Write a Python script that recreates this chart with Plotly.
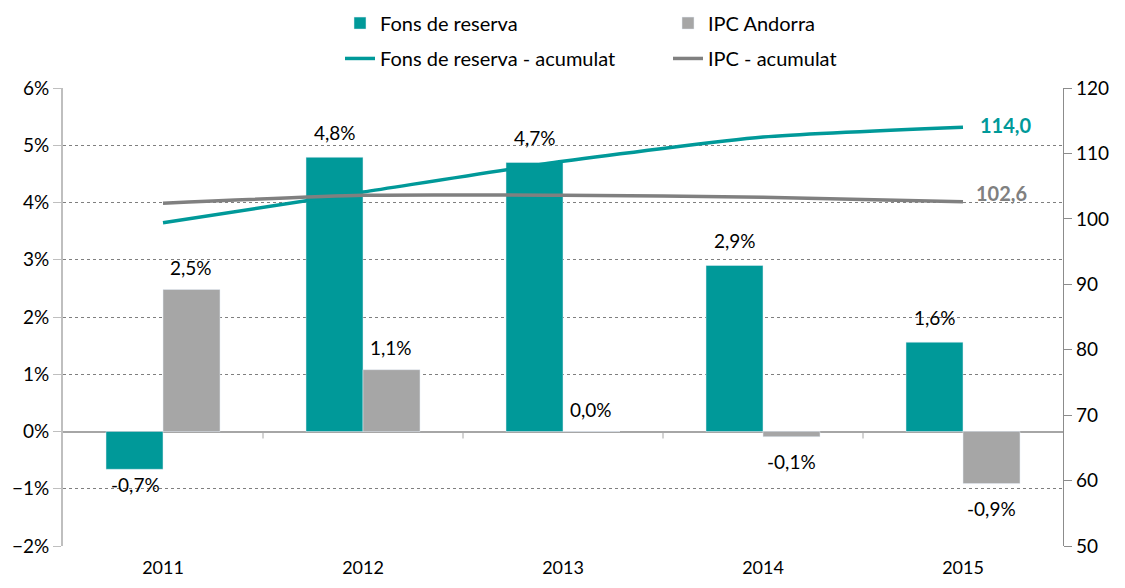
import plotly.graph_objects as go

years = ["2011", "2012", "2013", "2014", "2015"]
fons = [-0.66, 4.79, 4.70, 2.90, 1.56]
ipc = [2.48, 1.08, 0.0, -0.09, -0.91]
fons_acum = [99.4, 104.1, 108.8, 112.5, 114.0]
ipc_acum = [102.4, 103.6, 103.6, 103.3, 102.6]

TEAL = "#009999"
GRAYBAR = "#A6A6A6"
GRAYLINE = "#808080"
FONT = "Lato"

def pct(v):
    return f"{v:.1f}".replace(".", ",") + "%"

fig = go.Figure()
fig.add_trace(go.Bar(x=years, y=fons, name="Fons de reserva", marker_color=TEAL,
                     legend="legend", offsetgroup="a"))
fig.add_trace(go.Bar(x=years, y=ipc, name="IPC Andorra", marker_color=GRAYBAR,
                     legend="legend", offsetgroup="b"))
fig.add_trace(go.Scatter(x=years, y=fons_acum, name="Fons de reserva - acumulat", yaxis="y2",
                         mode="lines", line=dict(color=TEAL, width=3.5, shape="spline", smoothing=0.6),
                         legend="legend2"))
fig.add_trace(go.Scatter(x=years, y=ipc_acum, name="IPC - acumulat", yaxis="y2",
                         mode="lines", line=dict(color=GRAYLINE, width=3.5, shape="spline", smoothing=0.6),
                         legend="legend2"))

# annotations use the category index on the category axis
ann = []
for i, v in enumerate(fons):
    ann.append(dict(x=i, y=v, xref="x", yref="y", text=pct(v), showarrow=False,
                    xshift=-28, yshift=25 if v >= 0 else -15,
                    font=dict(family=FONT, size=19, color="#000")))
for i, v in enumerate(ipc):
    ann.append(dict(x=i, y=v, xref="x", yref="y", text=pct(v), showarrow=False,
                    xshift=28, yshift=22 if v >= 0 else -25,
                    font=dict(family=FONT, size=19, color="#000")))
last = len(years) - 1
ann.append(dict(x=last, y=fons_acum[-1], xref="x", yref="y2",
                text="<b>" + f"{fons_acum[-1]:.1f}".replace(".", ",") + "</b>",
                showarrow=False, xanchor="left", xshift=15, yshift=2,
                font=dict(family=FONT, size=20, color=TEAL)))
ann.append(dict(x=last, y=ipc_acum[-1], xref="x", yref="y2",
                text="<b>" + f"{ipc_acum[-1]:.1f}".replace(".", ",") + "</b>",
                showarrow=False, xanchor="left", xshift=11, yshift=9,
                font=dict(family=FONT, size=20, color=GRAYLINE)))

# small tick marks on the zero line at category boundaries
shapes = []
for i in range(1, len(years)):
    shapes.append(dict(type="line", xref="x", yref="y", x0=i - 0.5, x1=i - 0.5,
                       ysizemode="pixel", yanchor=0, y0=0, y1=-7,
                       line=dict(color="#A6A6A6", width=1)))

fig.update_layout(
    width=1117, height=580,
    margin=dict(l=55, r=62, t=80, b=42, autoexpand=False),
    plot_bgcolor="white", paper_bgcolor="white",
    font=dict(family=FONT, size=19, color="#000"),
    barmode="group", bargap=0.43, bargroupgap=0,
    annotations=ann, shapes=shapes,
    xaxis=dict(type="category", categoryarray=years, range=[-0.5, 4.5],
               showline=False, ticks="", showgrid=False, tickfont=dict(size=18),
               ticklabelstandoff=9),
    yaxis=dict(range=[-2, 6], dtick=1, ticksuffix="%", showgrid=True,
               gridcolor="#7F7F7F", griddash="dot", gridwidth=1,
               zeroline=True, zerolinecolor="#A6A6A6", zerolinewidth=1.5,
               showline=True, linecolor="#BFBFBF", linewidth=2,
               ticks="outside", ticklen=8, tickcolor="#BFBFBF", tickfont=dict(size=19)),
    yaxis2=dict(range=[50, 120], dtick=10, overlaying="y", side="right", showgrid=False,
                zeroline=False, showline=True, linecolor="#8C8C8C", linewidth=1.2,
                ticks="outside", ticklen=8, tickcolor="#8C8C8C", tickfont=dict(size=19)),
    legend=dict(orientation="h", x=0.277, xanchor="left", y=0.974, yref="container",
                yanchor="middle", entrywidth=283, font=dict(size=20), itemwidth=30),
    legend2=dict(orientation="h", x=0.277, xanchor="left", y=0.913, yref="container",
                 yanchor="middle", entrywidth=283, font=dict(size=20), itemwidth=30),
)

fig.write_html("out.html")
